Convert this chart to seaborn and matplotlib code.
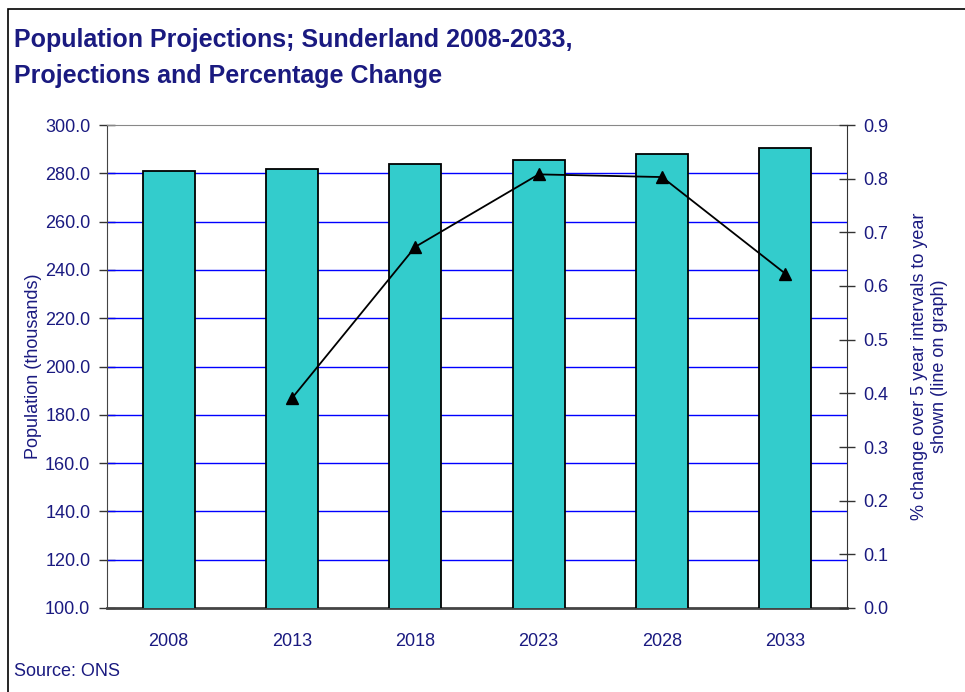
import matplotlib
matplotlib.use("Agg")
import matplotlib.pyplot as plt
import seaborn as sns
import pandas as pd
from matplotlib.patches import Rectangle

# values
years = ["2008", "2013", "2018", "2023", "2028", "2033"]
population = [281.0, 281.7, 284.0, 285.5, 288.0, 290.4]
change_years = ["2013", "2018", "2023", "2028", "2033"]
pct_change = [0.391, 0.673, 0.808, 0.803, 0.623]

navy = "#1a1a80"

sns.set_style("white")
plt.rcParams["font.family"] = ["Liberation Sans", "DejaVu Sans"]

bars = pd.DataFrame({"year": years, "pop": population})
line = pd.DataFrame({"year": change_years, "pct": pct_change})

fig = plt.figure(figsize=(9.65, 6.92), dpi=100)
ax = fig.add_axes([107 / 965, 1 - 608 / 692, 740 / 965, 483 / 692])

sns.barplot(data=bars, x="year", y="pop", order=years, color="#33CCCC",
            saturation=1, width=0.42, edgecolor="black", linewidth=1.3, ax=ax, zorder=3)
ax.set_ylim(100, 300)
ax.set_yticks(range(100, 301, 20))
ax.set_yticklabels([f"{v:.1f}" for v in range(100, 301, 20)])
for v in range(120, 300, 20):
    ax.axhline(v, color="#0000ff", lw=1, zorder=1)
ax.set_xlabel("")
ax.set_ylabel("Population (thousands)", color=navy, fontsize=13, labelpad=2)
ax.tick_params(axis="y", colors="#333333", labelcolor=navy, labelsize=13,
               direction="inout", length=12, width=1, pad=6)

# x ticks at the category boundaries, labels in between
ax.set_xticks([i - 0.5 for i in range(len(years) + 1)], minor=False)
ax.set_xticklabels([""] * (len(years) + 1))
ax.set_xticks(range(len(years)), minor=True)
ax.set_xticklabels(years, minor=True)
ax.tick_params(axis="x", which="major", direction="inout", length=18, width=1, colors="#333333")
ax.tick_params(axis="x", which="minor", length=0, pad=18, labelsize=13, labelcolor=navy)
ax.set_xlim(-0.5, len(years) - 0.5)

ax.spines["top"].set_color("#888888")
ax.spines["left"].set_color("#444444")
ax.spines["bottom"].set_color("#444444")
ax.spines["bottom"].set_linewidth(2)
ax.spines["right"].set_visible(False)

ax2 = ax.twinx()
sns.pointplot(data=line, x="year", y="pct", order=years, color="black",
              markers="^", markersize=8, linewidth=1.3, ax=ax2)
ax2.set_xlim(-0.5, len(years) - 0.5)
ax2.set_ylim(0, 0.9)
ax2.set_yticks([i / 10 for i in range(10)])
ax2.set_yticklabels([f"{i / 10:.1f}" for i in range(10)])
ax2.set_ylabel("% change over 5 year intervals to year\nshown (line on graph)",
               color=navy, fontsize=13, labelpad=16)
ax2.set_xlabel("")
ax2.tick_params(axis="y", colors="#333333", labelcolor=navy, labelsize=13,
                direction="inout", length=12, width=1, pad=6)
for s in ["top", "left", "bottom"]:
    ax2.spines[s].set_visible(False)
ax2.spines["right"].set_color("#333333")

fig.text(14 / 965, 1 - 40 / 692, "Population Projections; Sunderland 2008-2033,",
         fontsize=18, fontweight="bold", color=navy, va="center")
fig.text(14 / 965, 1 - 76 / 692, "Projections and Percentage Change",
         fontsize=18, fontweight="bold", color=navy, va="center")
fig.text(14 / 965, 1 - 672 / 692, "Source: ONS", fontsize=13, color=navy, va="center")

fig.patches.append(Rectangle((8 / 965, -0.05), 1.1, 1 - 9 / 692 + 0.05,
                             transform=fig.transFigure, fill=False,
                             edgecolor="black", lw=1.2, clip_on=False))

fig.savefig("out.png", dpi=100)
